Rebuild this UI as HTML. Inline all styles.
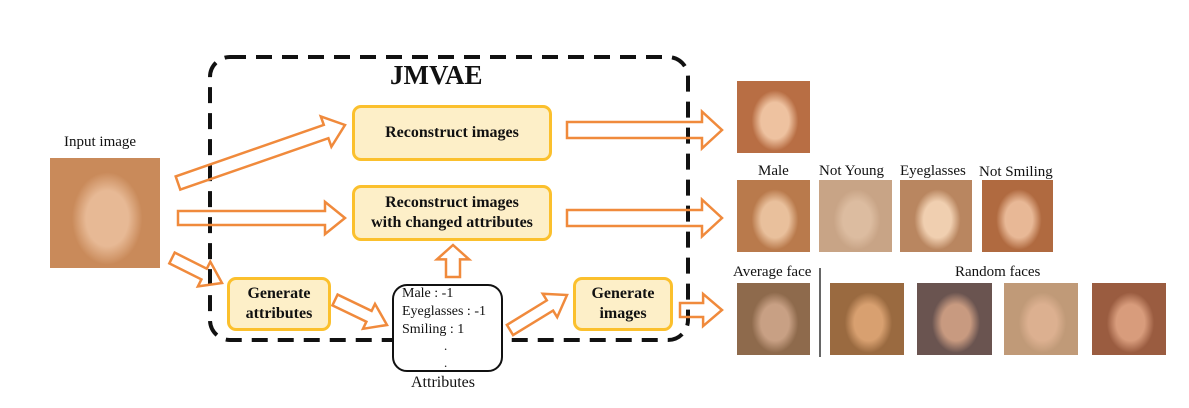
<!DOCTYPE html>
<html><head><meta charset="utf-8"><style>
body{margin:0;background:#fff;width:1189px;height:408px;position:relative;overflow:hidden;font-family:"Liberation Serif",serif}
.t{position:absolute;font-size:15px;color:#111;white-space:nowrap}
.box{position:absolute;background:#fdefc8;border:3px solid #fbc02d;border-radius:9px;box-sizing:border-box;display:flex;align-items:center;justify-content:center;text-align:center;font-weight:bold;font-size:16px;line-height:20px;color:#111}
.f{position:absolute}
</style></head><body>
<svg width="1189" height="408" style="position:absolute;left:0;top:0">
<rect x="210" y="57" width="478" height="283" rx="20" fill="none" stroke="#111" stroke-width="4" stroke-dasharray="16,10"/>
<rect x="393" y="285" width="109" height="86" rx="14" fill="#fff" stroke="#111" stroke-width="2"/>
<line x1="820" y1="268" x2="820" y2="357" stroke="#666" stroke-width="2"/>
<g id="arr" fill="none" stroke="#f08a3c" stroke-width="2.5" stroke-linejoin="miter"></g>
</svg>
<div class="t" style="left:390px;top:60px;font-size:27px;font-weight:bold">JMVAE</div>
<div class="box" style="left:352px;top:105px;width:200px;height:56px">Reconstruct images</div>
<div class="box" style="left:352px;top:185px;width:200px;height:56px">Reconstruct images<br>with changed attributes</div>
<div class="box" style="left:227px;top:277px;width:104px;height:54px">Generate<br>attributes</div>
<div class="box" style="left:573px;top:277px;width:100px;height:54px">Generate<br>images</div>
<div class="t" style="left:402px;top:285px;font-size:14px;line-height:18px">Male : -1<br>Eyeglasses : -1<br>Smiling : 1</div>
<div class="t" style="left:444px;top:337px;font-size:13px;line-height:17px">.<br>.</div>
<div class="t" style="left:411px;top:374px;font-size:16px">Attributes</div>
<div class="t" style="left:64px;top:134px">Input image</div>
<div class="t" style="left:758px;top:163px">Male</div>
<div class="t" style="left:819px;top:163px">Not Young</div>
<div class="t" style="left:900px;top:163px">Eyeglasses</div>
<div class="t" style="left:979px;top:164px">Not Smiling</div>
<div class="t" style="left:733px;top:264px">Average face</div>
<div class="t" style="left:955px;top:264px">Random faces</div>
<div id="faces"></div>
<script>
var A=[[178,183,345,125,14],[178,218,345,218,14],[172,258,222,283,12],[335,300,387,325,12],[510,330,567,295,12],[453,277,453,245,14],[567,130,722,130,16],[567,218,722,218,16],[680,310,722,310,14]];
var g=document.getElementById('arr'),s='';
A.forEach(function(a){var x1=a[0],y1=a[1],x2=a[2],y2=a[3],w=a[4]/2,H=w*2.3,L=Math.min(20,Math.hypot(x2-x1,y2-y1)*0.45);
var d=Math.hypot(x2-x1,y2-y1),ux=(x2-x1)/d,uy=(y2-y1)/d,nx=-uy,ny=ux,bx=x2-ux*L,by=y2-uy*L;
var p=[[x1+nx*w,y1+ny*w],[bx+nx*w,by+ny*w],[bx+nx*H,by+ny*H],[x2,y2],[bx-nx*H,by-ny*H],[bx-nx*w,by-ny*w],[x1-nx*w,y1-ny*w]];
s+='<polygon points="'+p.map(function(q){return q[0].toFixed(1)+','+q[1].toFixed(1)}).join(' ')+'"/>';});
g.innerHTML=s;
var F=[[50,158,110,110,'#c98a5a','#7a3f22','#e7b995'],[737,81,73,72,'#b86e44','#7a3a20','#eec2a0'],
[737,180,73,72,'#b97a4c','#6e3a1e','#e9c09c'],[819,180,73,72,'#c8a486','#8a6a50','#dcbca0'],[900,180,72,72,'#b98660','#5a3420','#f0cfb0'],[982,180,71,72,'#b06a40','#6a3018','#e8b896'],
[737,283,73,72,'#8e6a4c','#6e5038','#c8a084'],[830,283,74,72,'#9a6a40','#5a3a22','#d8a070'],[917,283,75,72,'#6a5450','#3a2a26','#c89a80'],[1004,283,74,72,'#c09a78','#a08060','#dcb090'],[1092,283,74,72,'#9a5c40','#6a3420','#d89c7c']];
var h='';F.forEach(function(f){h+='<div class="f" style="left:'+f[0]+'px;top:'+f[1]+'px;width:'+f[2]+'px;height:'+f[3]+'px;background:radial-gradient(ellipse 32% 42% at 52% 55%,'+f[6]+' 0%,'+f[6]+' 60%,'+f[4]+' 100%),'+f[5]+'"></div>';});
document.getElementById('faces').innerHTML=h;
</script>
</body></html>
